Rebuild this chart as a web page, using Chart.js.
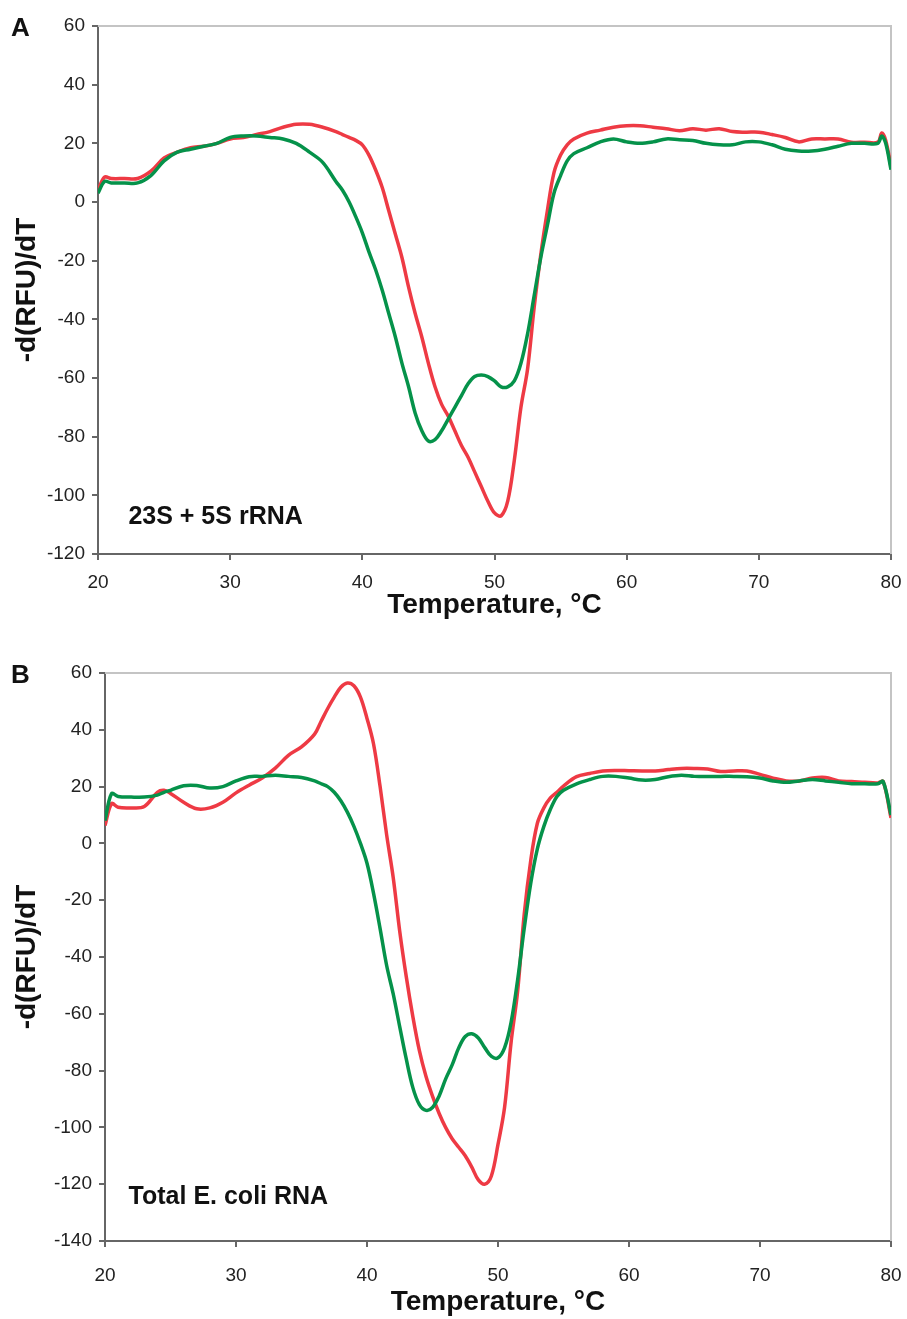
<!DOCTYPE html>
<html>
<head>
<meta charset="utf-8">
<script src="https://cdn.jsdelivr.net/npm/chart.js@4.4.0/dist/chart.umd.min.js"></script>
<style>
  body { margin: 0; background: #fff; width: 907px; height: 1319px; position: relative; overflow: hidden; font-family: "Liberation Sans", Arial, sans-serif; }
  .panel { position: absolute; left: 0; width: 907px; }
  .letter { position: absolute; left: 11px; font-weight: bold; font-size: 26px; color: #111; line-height: 1; }
</style>
</head>
<body>
<div class="panel" style="top:0;height:640px"><canvas id="chartA"></canvas></div>
<div class="panel" style="top:640px;height:679px"><canvas id="chartB"></canvas></div>
<div class="letter" style="top:14px">A</div>
<div class="letter" style="top:661px">B</div>
<script>
// panel A: 23S + 5S rRNA
const tempA = [20, 20.5, 21, 22, 23, 24, 25, 26, 27, 28, 29, 30, 31, 32, 33, 34, 35, 36, 37, 38, 38.5, 39, 39.5, 40,
  40.5, 41, 41.5, 42, 42.5, 43, 43.5, 44, 44.5, 45, 45.5, 46, 46.5, 47, 47.5, 48, 48.5, 49, 49.5, 50, 50.5, 51,
  51.5, 52, 52.5, 53, 53.5, 54, 54.5, 55, 55.5, 56, 57, 58, 59, 60, 61, 62, 63, 64, 65, 66, 67, 68, 69, 70, 71,
  72, 73, 74, 75, 76, 77, 78, 79, 79.3, 79.6, 80];
const greenA = [3, 7, 6.5, 6.5, 6.5, 9, 14, 17, 18, 19, 20, 22, 22.5, 22.5, 22, 21.5, 20, 17, 13.5, 7, 4, 0, -5, -10.5,
  -17, -23, -30, -38, -46, -55, -63, -72, -78, -81.5, -81, -78, -74, -70, -66, -62, -59.5, -59, -59.5, -61, -63, -63,
  -61, -55, -45, -32, -19, -8, 3, 9, 14, 16.5, 18.5, 20.5, 21.5, 20.5, 20, 20.5, 21.5, 21.2, 21, 20, 19.5, 19.5, 20.5, 20.5, 19.5,
  18, 17.4, 17.4, 18, 19, 20, 20, 20, 22.5, 20, 11];
const redA = [4, 8.5, 8, 8, 8, 10.5, 15, 17, 18.5, 19, 20, 21.5, 22, 23, 24, 25.5, 26.5, 26.5, 25.5, 24, 23, 22, 21, 19.5,
  16, 11, 5, -3, -11, -19, -29, -38, -46, -55, -63, -69, -73, -78, -83, -87, -92, -97, -102, -106, -107, -102,
  -88, -70, -57, -36, -18, -3, 10, 16, 19.5, 21.5, 23.5, 24.5, 25.5, 26, 26, 25.5, 25, 24.3, 25, 24.5, 25, 24, 23.8, 23.8, 23,
  22, 20.5, 21.5, 21.5, 21.5, 20.4, 20.4, 20.4, 23.5, 21, 12];

// panel B: total E. coli RNA
const tempB = [20, 20.5, 21, 22, 23, 24, 24.5, 25, 26, 27, 28, 29, 30, 31, 32, 33, 34, 35, 36, 36.5, 37, 37.5, 38, 38.5,
  39, 39.5, 40, 40.5, 41, 41.5, 42, 42.5, 43, 43.5, 44, 44.5, 45, 45.5, 46, 46.5, 47, 47.5, 48, 48.5, 49, 49.5,
  50, 50.5, 51, 51.5, 52, 52.5, 53, 53.5, 54, 54.5, 55, 56, 57, 58, 59, 60, 61, 62, 63, 64, 65, 66, 67, 68, 69,
  70, 71, 72, 73, 74, 75, 76, 77, 78, 79, 79.4, 80];
const greenB = [8, 17.5, 16.5, 16.3, 16.3, 17, 18, 18.7, 20.3, 20.4, 19.5, 20, 22, 23.5, 23.6, 24, 23.6, 23.2, 22, 21, 20, 18, 15, 11,
  6, 0, -7, -17.6, -30, -43, -53, -64.6, -76, -86, -92, -94, -93, -89, -83, -78, -72, -68, -67, -68.5, -72, -75,
  -75.5, -72, -63, -48, -30, -14, -2, 6, 12, 16.5, 18.7, 21, 22.5, 23.6, 23.6, 23, 22.3, 22.5, 23.5, 24, 23.6, 23.6, 23.6, 23.6, 23.5,
  23, 22, 21.5, 22, 22.5, 22, 21.5, 21, 21, 21, 21.8, 10];
const redB = [6.3, 14, 12.7, 12.5, 13, 18, 18.7, 17.6, 14.5, 12.2, 12.5, 14.5, 17.8, 20.5, 23, 26.5, 31, 34, 38.5, 43, 47.5, 51.5, 55, 56.5,
  55.5, 51.5, 44, 35, 20, 3, -12, -31, -47, -61, -73, -82, -89, -95, -100, -104, -107, -110, -114, -118.5, -120, -117,
  -106, -93, -70, -52, -25, -6, 7, 12.5, 16, 18, 20.2, 23.5, 24.6, 25.5, 25.7, 25.6, 25.5, 25.5, 26, 26.4, 26.4, 26.2, 25.3, 25.5, 25.5,
  24.3, 23, 22, 22, 23, 23.2, 22, 21.8, 21.5, 21.3, 21.8, 9];

const GREEN = '#05924a';
const RED = '#ee3a44';

// light grey frame on the top and right of the plot area
const framePlugin = {
  id: 'frame',
  beforeDatasetsDraw(chart) {
    const { ctx, chartArea: a } = chart;
    ctx.save();
    ctx.strokeStyle = '#c4c4c4';
    ctx.lineWidth = 2;
    ctx.beginPath();
    ctx.moveTo(a.left, a.top);
    ctx.lineTo(a.right, a.top);
    ctx.lineTo(a.right, a.bottom);
    ctx.stroke();
    ctx.restore();
  }
};

// sample name written inside the plot
const notePlugin = {
  id: 'note',
  afterDatasetsDraw(chart, args, opts) {
    const { ctx, scales } = chart;
    ctx.save();
    ctx.font = 'bold 25px "Liberation Sans", Arial, sans-serif';
    ctx.fillStyle = '#111';
    ctx.textBaseline = 'middle';
    ctx.fillText(opts.text, scales.x.getPixelForValue(opts.x), scales.y.getPixelForValue(opts.y));
    ctx.restore();
  }
};

function makeChart(id, temps, green, red, p) {
  const pts = vals => vals.map((v, i) => ({ x: temps[i], y: v }));
  return new Chart(document.getElementById(id), {
    type: 'line',
    data: {
      datasets: [
        { data: pts(green), borderColor: GREEN, borderWidth: 3.5, pointRadius: 0, tension: 0.35 },
        { data: pts(red), borderColor: RED, borderWidth: 3.5, pointRadius: 0, tension: 0.35 }
      ]
    },
    options: {
      animation: false,
      responsive: true,
      maintainAspectRatio: false,
      layout: { padding: { left: 8, right: 16, top: p.top, bottom: 0 } },
      plugins: {
        legend: { display: false },
        tooltip: { enabled: false },
        note: { text: p.note, x: p.noteX, y: p.noteY }
      },
      scales: {
        x: {
          type: 'linear', min: 20, max: 80,
          // label drop is set with lineHeight so the right padding stays small
          ticks: { stepSize: 10, color: '#222', padding: 2,
            font: { size: 19, lineHeight: p.xLabelLine + 'px', family: '"Liberation Sans", Arial' } },
          grid: { drawOnChartArea: false, drawTicks: true, tickLength: 6, color: '#666', lineWidth: 2 },
          border: { display: true, color: '#666', width: 2 },
          title: { display: true, text: 'Temperature, °C', color: '#111',
            font: { size: 28, weight: 'bold', family: '"Liberation Sans", Arial' }, padding: { top: 0, bottom: p.titleBottom } },
          afterFit: s => { s.height = p.xHeight; }
        },
        y: {
          min: p.yMin, max: 60,
          ticks: { stepSize: 20, color: '#222', padding: 7, font: { size: 19, family: '"Liberation Sans", Arial' } },
          grid: { drawOnChartArea: false, drawTicks: true, tickLength: 6, color: '#666', lineWidth: 2 },
          border: { display: true, color: '#666', width: 2 },
          title: { display: true, text: '-d(RFU)/dT', color: '#111',
            font: { size: 28, weight: 'bold', family: '"Liberation Sans", Arial' }, padding: { top: 2, bottom: 0 } },
          afterFit: s => { s.width = p.yWidth; }
        }
      }
    },
    plugins: [framePlugin, notePlugin]
  });
}

makeChart('chartA', tempA, greenA, redA, {
  top: 26, yMin: -120, yWidth: 90, xHeight: 86, xLabelLine: 41, titleBottom: 18,
  note: '23S + 5S rRNA', noteX: 22.3, noteY: -107.4
});
makeChart('chartB', tempB, greenB, redB, {
  top: 33, yMin: -140, yWidth: 97, xHeight: 78, xLabelLine: 54, titleBottom: 0,
  note: 'Total E. coli RNA', noteX: 21.8, noteY: -124.6
});
</script>
</body>
</html>
